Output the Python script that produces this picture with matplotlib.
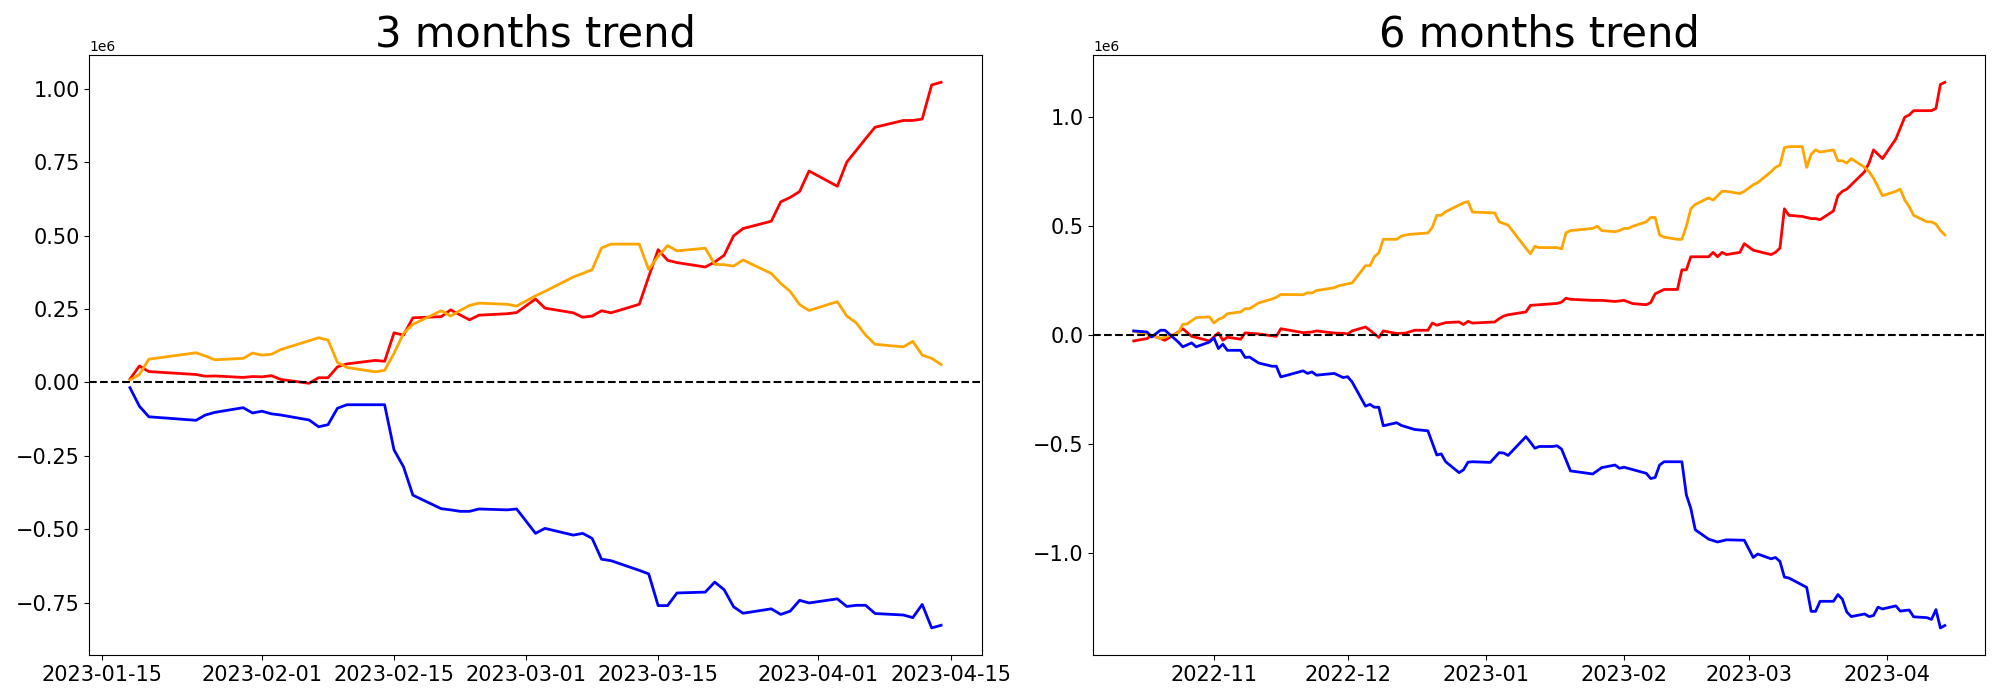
import numpy as np
import pandas as pd
import matplotlib
matplotlib.use('Agg')
import matplotlib.pyplot as plt

# ---- 3 months (shared dates for all three lines) ----
dates_3m = ['2023-01-18', '2023-01-19', '2023-01-20', '2023-01-25', '2023-01-26', '2023-01-27',
            '2023-01-30', '2023-01-31', '2023-02-01', '2023-02-02', '2023-02-03', '2023-02-06',
            '2023-02-07', '2023-02-08', '2023-02-09', '2023-02-10', '2023-02-13', '2023-02-14',
            '2023-02-15', '2023-02-16', '2023-02-17', '2023-02-20', '2023-02-21', '2023-02-22',
            '2023-02-23', '2023-02-24', '2023-02-27', '2023-02-28', '2023-03-02', '2023-03-03',
            '2023-03-06', '2023-03-07', '2023-03-08', '2023-03-09', '2023-03-10', '2023-03-13',
            '2023-03-14', '2023-03-15', '2023-03-16', '2023-03-17', '2023-03-20', '2023-03-21',
            '2023-03-22', '2023-03-23', '2023-03-24', '2023-03-27', '2023-03-28', '2023-03-29',
            '2023-03-30', '2023-03-31', '2023-04-03', '2023-04-04', '2023-04-05', '2023-04-06',
            '2023-04-07', '2023-04-10', '2023-04-11', '2023-04-12', '2023-04-13', '2023-04-14']

# values in millions
red_3m = [0.011, 0.056, 0.037, 0.027, 0.021, 0.022, 0.017, 0.020,
          0.019, 0.023, 0.010, -0.003, 0.016, 0.016, 0.053, 0.063, 0.075, 0.072, 0.169, 0.161,
          0.220, 0.224, 0.247, 0.230, 0.213, 0.229, 0.234, 0.238,
          0.284, 0.253, 0.237, 0.222, 0.226, 0.244, 0.237, 0.266, 0.360, 0.452, 0.416, 0.408,
          0.393, 0.410, 0.433, 0.499, 0.524, 0.549, 0.615, 0.630, 0.650, 0.720,
          0.668, 0.750, 0.790, 0.830, 0.869, 0.892, 0.892, 0.897, 1.013, 1.022]
orange_3m = [0.008, 0.027, 0.079, 0.101, 0.090, 0.077, 0.082, 0.100,
             0.093, 0.096, 0.112, 0.142, 0.152, 0.144, 0.068, 0.051, 0.036, 0.041, 0.099, 0.167,
             0.198, 0.244, 0.226, 0.245, 0.262, 0.270, 0.266, 0.260,
             0.295, 0.310, 0.359, 0.371, 0.384, 0.458, 0.471, 0.471, 0.384, 0.430, 0.466, 0.448,
             0.457, 0.402, 0.401, 0.396, 0.417, 0.371, 0.337, 0.310, 0.265, 0.245,
             0.275, 0.226, 0.203, 0.161, 0.130, 0.121, 0.140, 0.093, 0.082, 0.061]
blue_3m = [-0.018, -0.081, -0.117, -0.129, -0.111, -0.102, -0.086, -0.104,
           -0.098, -0.107, -0.111, -0.128, -0.151, -0.144, -0.088, -0.076, -0.076, -0.076, -0.230, -0.287,
           -0.384, -0.430, -0.434, -0.439, -0.439, -0.431, -0.434, -0.431,
           -0.514, -0.497, -0.520, -0.514, -0.531, -0.602, -0.607, -0.640, -0.652, -0.760, -0.760, -0.717,
           -0.714, -0.680, -0.706, -0.764, -0.786, -0.771, -0.790, -0.779, -0.742, -0.751,
           -0.737, -0.763, -0.759, -0.759, -0.787, -0.792, -0.801, -0.756, -0.836, -0.827]

# ---- 6 months (each line read separately) ----
red_6m_dates = ['2022-10-14', '2022-10-17', '2022-10-18', '2022-10-20', '2022-10-21', '2022-10-24',
                '2022-10-25', '2022-10-27', '2022-10-28', '2022-10-31', '2022-11-02', '2022-11-03',
                '2022-11-04', '2022-11-07', '2022-11-08', '2022-11-11', '2022-11-15', '2022-11-16',
                '2022-11-21', '2022-11-23', '2022-11-24', '2022-11-28', '2022-11-30', '2022-12-01',
                '2022-12-02', '2022-12-05', '2022-12-06', '2022-12-08', '2022-12-09', '2022-12-12',
                '2022-12-14', '2022-12-16', '2022-12-19', '2022-12-20', '2022-12-21', '2022-12-23',
                '2022-12-26', '2022-12-27', '2022-12-28', '2022-12-29', '2023-01-02', '2023-01-03',
                '2023-01-04', '2023-01-05', '2023-01-06', '2023-01-10', '2023-01-11', '2023-01-13',
                '2023-01-17', '2023-01-18',
                '2023-01-19', '2023-01-20', '2023-01-25', '2023-01-27', '2023-01-30', '2023-02-01',
                '2023-02-03', '2023-02-06', '2023-02-07', '2023-02-08', '2023-02-09', '2023-02-10',
                '2023-02-13', '2023-02-14', '2023-02-15', '2023-02-16', '2023-02-17', '2023-02-20',
                '2023-02-21', '2023-02-22', '2023-02-23', '2023-02-24', '2023-02-27', '2023-02-28',
                '2023-03-02', '2023-03-03', '2023-03-06', '2023-03-07', '2023-03-08', '2023-03-09',
                '2023-03-10', '2023-03-13', '2023-03-14', '2023-03-15', '2023-03-16', '2023-03-17',
                '2023-03-20', '2023-03-21', '2023-03-22', '2023-03-23', '2023-03-24', '2023-03-27',
                '2023-03-28', '2023-03-29', '2023-03-30', '2023-03-31', '2023-04-03', '2023-04-04',
                '2023-04-05', '2023-04-06', '2023-04-07', '2023-04-10', '2023-04-11', '2023-04-12',
                '2023-04-13', '2023-04-14']
red_6m = [-0.026, -0.015, 0.000, -0.015, -0.023, 0.015,
          0.030, -0.005, -0.010, -0.026, 0.011, -0.023,
          -0.009, -0.018, 0.011, 0.006, -0.005, 0.030,
          0.012, 0.015, 0.020, 0.010, 0.009, 0.006,
          0.020, 0.038, 0.023, -0.010, 0.020, 0.008,
          0.010, 0.023, 0.023, 0.056, 0.046, 0.058,
          0.061, 0.049, 0.064, 0.056, 0.060, 0.061,
          0.076, 0.088, 0.094, 0.107, 0.137, 0.140,
          0.146, 0.152,
          0.170, 0.165, 0.160, 0.160, 0.155, 0.160,
          0.145, 0.140, 0.150, 0.190, 0.200, 0.210,
          0.210, 0.300, 0.300, 0.360, 0.360, 0.360,
          0.380, 0.360, 0.380, 0.370, 0.380, 0.420,
          0.390, 0.385, 0.370, 0.380, 0.400, 0.580,
          0.550, 0.545, 0.540, 0.535, 0.535, 0.530,
          0.570, 0.640, 0.660, 0.670, 0.690, 0.750,
          0.790, 0.850, 0.830, 0.810, 0.900, 0.950,
          1.000, 1.010, 1.030, 1.030, 1.030, 1.040,
          1.150, 1.160]

orange_6m_dates = ['2022-10-14', '2022-10-17', '2022-10-18', '2022-10-20', '2022-10-21', '2022-10-24',
                   '2022-10-25', '2022-10-26', '2022-10-28', '2022-10-31', '2022-11-01', '2022-11-02',
                   '2022-11-03', '2022-11-04', '2022-11-07', '2022-11-08', '2022-11-09', '2022-11-11',
                   '2022-11-14', '2022-11-15', '2022-11-16', '2022-11-21', '2022-11-22', '2022-11-23',
                   '2022-11-24', '2022-11-28', '2022-11-29', '2022-12-02', '2022-12-05', '2022-12-06',
                   '2022-12-07', '2022-12-08', '2022-12-09', '2022-12-12', '2022-12-13', '2022-12-14',
                   '2022-12-15', '2022-12-19', '2022-12-20', '2022-12-21', '2022-12-22', '2022-12-23',
                   '2022-12-27', '2022-12-28', '2022-12-29', '2023-01-03', '2023-01-04', '2023-01-06',
                   '2023-01-10', '2023-01-11', '2023-01-12', '2023-01-13', '2023-01-17', '2023-01-18',
                   '2023-01-19', '2023-01-20', '2023-01-25', '2023-01-26', '2023-01-27', '2023-01-30',
                   '2023-01-31', '2023-02-01', '2023-02-02', '2023-02-03', '2023-02-06', '2023-02-07',
                   '2023-02-08', '2023-02-09', '2023-02-10', '2023-02-13', '2023-02-14', '2023-02-15',
                   '2023-02-16', '2023-02-17', '2023-02-20', '2023-02-21', '2023-02-22', '2023-02-23',
                   '2023-02-24', '2023-02-27', '2023-02-28', '2023-03-02', '2023-03-03', '2023-03-06',
                   '2023-03-07', '2023-03-08', '2023-03-09', '2023-03-10', '2023-03-13', '2023-03-14',
                   '2023-03-15', '2023-03-16', '2023-03-17', '2023-03-20', '2023-03-21', '2023-03-22',
                   '2023-03-23', '2023-03-24', '2023-03-27', '2023-03-28', '2023-03-29', '2023-03-30',
                   '2023-03-31', '2023-04-03', '2023-04-04', '2023-04-05', '2023-04-06', '2023-04-07',
                   '2023-04-10', '2023-04-11', '2023-04-12', '2023-04-13', '2023-04-14']
orange_6m = [0.018, 0.005, 0.000, -0.015, -0.008, 0.010,
             0.050, 0.052, 0.081, 0.084, 0.056, 0.073,
             0.081, 0.099, 0.107, 0.122, 0.122, 0.148,
             0.166, 0.174, 0.187, 0.186, 0.195, 0.194,
             0.205, 0.218, 0.227, 0.240, 0.319, 0.319,
             0.360, 0.378, 0.440, 0.440, 0.454, 0.460,
             0.463, 0.469, 0.495, 0.550, 0.550, 0.567,
             0.607, 0.613, 0.565, 0.561, 0.520, 0.505,
             0.399, 0.374, 0.408, 0.402, 0.402, 0.396,
             0.470, 0.480, 0.490, 0.500, 0.480, 0.475,
             0.480, 0.490, 0.490, 0.500, 0.520, 0.540,
             0.540, 0.460, 0.450, 0.440, 0.440, 0.500,
             0.580, 0.600, 0.630, 0.620, 0.640, 0.660,
             0.660, 0.650, 0.660, 0.690, 0.700, 0.750,
             0.770, 0.780, 0.860, 0.865, 0.865, 0.770,
             0.830, 0.850, 0.840, 0.850, 0.800, 0.800,
             0.790, 0.810, 0.770, 0.750, 0.720, 0.680,
             0.640, 0.660, 0.670, 0.620, 0.590, 0.550,
             0.520, 0.520, 0.510, 0.480, 0.460]

blue_6m_dates = ['2022-10-14', '2022-10-17', '2022-10-18', '2022-10-20', '2022-10-21', '2022-10-24',
                 '2022-10-25', '2022-10-27', '2022-10-28', '2022-10-31', '2022-11-01', '2022-11-02',
                 '2022-11-03', '2022-11-04', '2022-11-07', '2022-11-08', '2022-11-09', '2022-11-11',
                 '2022-11-14', '2022-11-15', '2022-11-16', '2022-11-18', '2022-11-21', '2022-11-22',
                 '2022-11-23', '2022-11-24', '2022-11-28', '2022-11-30', '2022-12-01', '2022-12-02',
                 '2022-12-05', '2022-12-06', '2022-12-07', '2022-12-08', '2022-12-09', '2022-12-12',
                 '2022-12-13', '2022-12-16', '2022-12-19', '2022-12-21', '2022-12-22', '2022-12-23',
                 '2022-12-26', '2022-12-27', '2022-12-28', '2022-12-29', '2023-01-02', '2023-01-04',
                 '2023-01-05', '2023-01-06', '2023-01-10', '2023-01-11', '2023-01-12', '2023-01-13',
                 '2023-01-16', '2023-01-17', '2023-01-18', '2023-01-20', '2023-01-25', '2023-01-27',
                 '2023-01-30', '2023-01-31', '2023-02-01', '2023-02-06', '2023-02-07', '2023-02-08',
                 '2023-02-09', '2023-02-10', '2023-02-14', '2023-02-15', '2023-02-16', '2023-02-17',
                 '2023-02-20', '2023-02-22', '2023-02-24', '2023-02-28', '2023-03-02', '2023-03-03',
                 '2023-03-06', '2023-03-07', '2023-03-08', '2023-03-09', '2023-03-10', '2023-03-14',
                 '2023-03-15', '2023-03-16', '2023-03-17', '2023-03-20', '2023-03-21', '2023-03-22',
                 '2023-03-23', '2023-03-24', '2023-03-27', '2023-03-28', '2023-03-29', '2023-03-30',
                 '2023-03-31', '2023-04-03', '2023-04-04', '2023-04-05', '2023-04-06', '2023-04-07',
                 '2023-04-10', '2023-04-11', '2023-04-12', '2023-04-13', '2023-04-14']
blue_6m = [0.020, 0.015, -0.008, 0.023, 0.023, -0.031,
           -0.053, -0.035, -0.053, -0.031, -0.012, -0.061,
           -0.041, -0.069, -0.069, -0.102, -0.100, -0.127,
           -0.142, -0.142, -0.191, -0.180, -0.163, -0.175,
           -0.168, -0.183, -0.175, -0.194, -0.190, -0.214,
           -0.325, -0.317, -0.330, -0.330, -0.415, -0.401,
           -0.413, -0.432, -0.438, -0.549, -0.544, -0.580,
           -0.630, -0.617, -0.582, -0.580, -0.583, -0.538,
           -0.540, -0.551, -0.465, -0.490, -0.518, -0.510,
           -0.510, -0.507, -0.522, -0.622, -0.636, -0.607,
           -0.595, -0.610, -0.605, -0.633, -0.657, -0.652,
           -0.595, -0.580, -0.580, -0.732, -0.794, -0.892,
           -0.935, -0.948, -0.938, -0.940, -1.019, -1.003,
           -1.025, -1.019, -1.037, -1.109, -1.113, -1.156,
           -1.266, -1.266, -1.220, -1.220, -1.189, -1.210,
           -1.269, -1.290, -1.278, -1.290, -1.285, -1.247,
           -1.255, -1.241, -1.265, -1.262, -1.260, -1.291,
           -1.295, -1.303, -1.258, -1.342, -1.331]


def draw(ax, lines, title):
    for dates, vals, color in lines:
        ax.plot(pd.to_datetime(dates), np.array(vals) * 1e6, color=color, linewidth=2)
    ax.axhline(0, color='black', linestyle='--', linewidth=1.5)
    ax.set_title(title, fontsize=30)
    ax.tick_params(axis='both', labelsize=15)


def main():
    fig, axes = plt.subplots(1, 2, figsize=(20, 7))
    fig.subplots_adjust(left=0.0447, right=0.9927, bottom=0.064, top=0.9214, wspace=0.125)

    draw(axes[0], [(dates_3m, red_3m, 'red'),
                   (dates_3m, orange_3m, 'orange'),
                   (dates_3m, blue_3m, 'blue')], '3 months trend')
    draw(axes[1], [(red_6m_dates, red_6m, 'red'),
                   (orange_6m_dates, orange_6m, 'orange'),
                   (blue_6m_dates, blue_6m, 'blue')], '6 months trend')

    plt.savefig('out.png', dpi=100)


if __name__ == '__main__':
    main()
